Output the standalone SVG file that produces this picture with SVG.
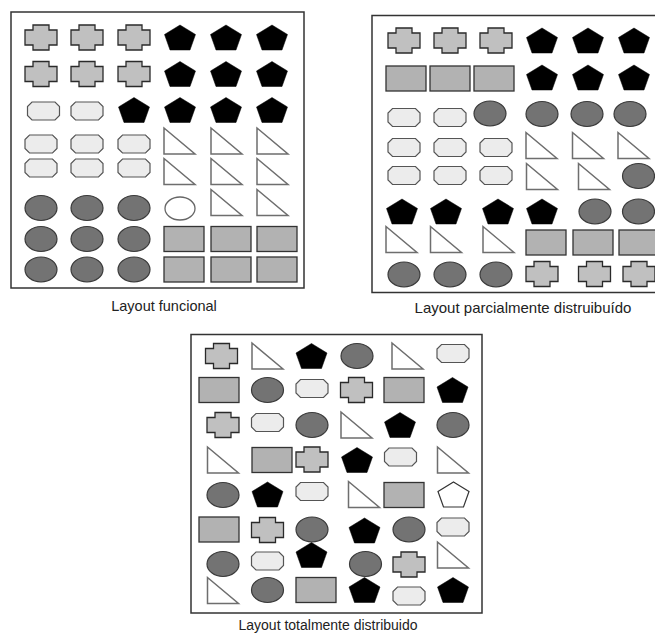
<svg xmlns="http://www.w3.org/2000/svg" width="655" height="634" viewBox="0 0 655 634">
<style>
.cr{fill:#c0c0c0;stroke:#2a2a2a;stroke-width:1.3}
.pe{fill:#000;stroke:#000;stroke-width:0.5}
.oc{fill:#ececec;stroke:#555;stroke-width:1.2}
.tr{fill:#fff;stroke:#6e6e6e;stroke-width:1.5}
.el{fill:#737373;stroke:#3a3a3a;stroke-width:1.2}
.rc{fill:#b2b2b2;stroke:#333;stroke-width:1.3}
.frame{fill:#fff;stroke:#333;stroke-width:1.5}
.lbl{font-family:"Liberation Sans",Arial,sans-serif;fill:#222;text-anchor:middle}
</style>
<defs>
<polygon id="cross" class="cr" points="-8,-12.5 8,-12.5 8,-7.5 16,-7.5 16,7.5 8,7.5 8,12.5 -8,12.5 -8,7.5 -16,7.5 -16,-7.5 -8,-7.5"/>
<polygon id="pent" class="pe" points="0,-12.5 15.5,-3 10,12.5 -10,12.5 -15.5,-3"/>
<polygon id="oct" class="oc" points="-11.5,-9 11.5,-9 16,-4.5 16,4.5 11.5,9 -11.5,9 -16,4.5 -16,-4.5"/>
<polygon id="tri" class="tr" points="-15.5,-13 15.5,13 -15.5,13"/>
<ellipse id="ell" class="el" rx="16" ry="12.5"/>
<rect id="rct" class="rc" x="-20" y="-12.5" width="40" height="25"/>
</defs>
<rect width="655" height="634" fill="#fff"/>

<g id="layout-funcional">
<rect class="frame" x="11" y="12" width="293" height="276"/>
<use href="#cross" x="41" y="37.5"/><use href="#cross" x="87" y="37.5"/><use href="#cross" x="134" y="37.5"/>
<use href="#pent" x="180" y="37.5"/><use href="#pent" x="226" y="37.5"/><use href="#pent" x="272" y="37.5"/>
<use href="#cross" x="41" y="74"/><use href="#cross" x="87" y="74"/><use href="#cross" x="134" y="74"/>
<use href="#pent" x="180" y="74"/><use href="#pent" x="226" y="74"/><use href="#pent" x="272" y="74"/>
<use href="#oct" x="43.5" y="111"/><use href="#oct" x="87" y="111"/>
<use href="#pent" x="134" y="110"/><use href="#pent" x="180" y="110"/><use href="#pent" x="226" y="110"/><use href="#pent" x="272" y="110"/>
<use href="#oct" x="41" y="144"/><use href="#oct" x="87" y="144"/><use href="#oct" x="134" y="144"/>
<use href="#tri" x="179.5" y="141"/><use href="#tri" x="226.5" y="141"/><use href="#tri" x="272.5" y="141"/>
<use href="#oct" x="41" y="168"/><use href="#oct" x="87" y="168"/><use href="#oct" x="134" y="168"/>
<use href="#tri" x="179.5" y="171.5"/><use href="#tri" x="226.5" y="171.5"/><use href="#tri" x="272.5" y="171.5"/>
<use href="#ell" x="41" y="208"/><use href="#ell" x="87" y="208"/><use href="#ell" x="134" y="208"/>
<ellipse cx="180" cy="208.5" rx="15" ry="11.5" fill="#fff" stroke="#666" stroke-width="1.3"/>
<use href="#tri" x="226.5" y="202.5"/><use href="#tri" x="272.5" y="202.5"/>
<use href="#ell" x="41" y="239"/><use href="#ell" x="87" y="239"/><use href="#ell" x="134" y="239"/>
<use href="#rct" x="184" y="239"/><use href="#rct" x="231" y="239"/><use href="#rct" x="277" y="239"/>
<use href="#ell" x="41" y="269.5"/><use href="#ell" x="87" y="269.5"/><use href="#ell" x="134" y="269.5"/>
<use href="#rct" x="184" y="269.5"/><use href="#rct" x="231" y="269.5"/><use href="#rct" x="277" y="269.5"/>
<text class="lbl" x="164" y="311" font-size="14.5">Layout funcional</text>
</g>

<g id="layout-parcial">
<rect class="frame" x="372" y="15.5" width="300" height="277"/>
<use href="#cross" x="404" y="40.5"/><use href="#cross" x="450" y="40.5"/><use href="#cross" x="496" y="40.5"/>
<use href="#pent" x="542" y="40.5"/><use href="#pent" x="588" y="40.5"/><use href="#pent" x="634" y="40.5"/>
<use href="#rct" x="406" y="78.5"/><use href="#rct" x="450" y="78.5"/><use href="#rct" x="494" y="78.5"/>
<use href="#pent" x="542" y="77.5"/><use href="#pent" x="588" y="77.5"/><use href="#pent" x="634" y="77.5"/>
<use href="#oct" x="404" y="117.5"/><use href="#oct" x="450" y="117.5"/>
<use href="#ell" x="490" y="113.5"/><use href="#ell" x="542" y="114"/><use href="#ell" x="587" y="114"/><use href="#ell" x="630" y="114"/>
<use href="#oct" x="404" y="147.5"/><use href="#oct" x="450" y="147.5"/><use href="#oct" x="496" y="147.5"/>
<use href="#tri" x="541.5" y="145.5"/><use href="#tri" x="588" y="145.5"/><use href="#tri" x="633.5" y="145.5"/>
<use href="#oct" x="404" y="175.5"/><use href="#oct" x="450" y="175.5"/><use href="#oct" x="496" y="175.5"/>
<use href="#tri" x="542" y="176.5"/><use href="#tri" x="594" y="176.5"/><use href="#ell" x="638.5" y="176"/>
<use href="#pent" x="402" y="211.5"/><use href="#pent" x="446" y="211.5"/><use href="#pent" x="498" y="211.5"/><use href="#pent" x="542" y="211.5"/>
<use href="#ell" x="595" y="211.5"/><use href="#ell" x="638.5" y="211.5"/>
<use href="#tri" x="401.5" y="239.5"/><use href="#tri" x="446" y="239.5"/><use href="#tri" x="498.5" y="239.5"/>
<use href="#rct" x="546" y="242.5"/><use href="#rct" x="593" y="242.5"/><use href="#rct" x="639" y="242.5"/>
<use href="#ell" x="404" y="274.5"/><use href="#ell" x="450" y="274.5"/><use href="#ell" x="496" y="274.5"/>
<use href="#cross" x="542" y="274"/><use href="#cross" x="594.5" y="274"/><use href="#cross" x="639" y="274"/>
<text class="lbl" x="523" y="313" font-size="15">Layout parcialmente distruibuído</text>
</g>

<g id="layout-total">
<rect class="frame" x="191" y="334.5" width="291" height="278.5"/>
<use href="#cross" x="221.5" y="356"/><use href="#tri" x="267.5" y="356"/><use href="#pent" x="311.5" y="356"/>
<use href="#ell" x="357" y="356"/><use href="#tri" x="407.5" y="356"/><use href="#oct" x="453" y="353.5"/>
<use href="#rct" x="219" y="390"/><use href="#ell" x="267.5" y="390"/><use href="#oct" x="312" y="388.5"/>
<use href="#cross" x="356.5" y="390"/><use href="#rct" x="404" y="390"/><use href="#pent" x="452.5" y="390"/>
<use href="#cross" x="223" y="425"/><use href="#oct" x="267.5" y="422.5"/><use href="#ell" x="312" y="425"/>
<use href="#tri" x="356.5" y="425"/><use href="#pent" x="400" y="425"/><use href="#ell" x="453" y="425"/>
<use href="#tri" x="223" y="460"/><use href="#rct" x="272" y="460"/><use href="#cross" x="312" y="459.5"/>
<use href="#pent" x="357" y="460"/><use href="#oct" x="400.5" y="457"/><use href="#tri" x="453" y="460"/>
<use href="#ell" x="223" y="495"/><use href="#pent" x="267.5" y="494.5"/><use href="#oct" x="312" y="491.5"/>
<use href="#tri" x="364" y="494.5"/><use href="#rct" x="404" y="495"/>
<polygon points="453.5,482 469,491.5 463.5,507 443.5,507 438,491.5" fill="#fff" stroke="#333" stroke-width="1.2"/>
<use href="#rct" x="219" y="529.5"/><use href="#cross" x="267.5" y="530"/><use href="#ell" x="312" y="529.5"/>
<use href="#pent" x="364.5" y="530.5"/><use href="#ell" x="409" y="529.5"/><use href="#oct" x="453" y="527"/>
<use href="#ell" x="223" y="564"/><use href="#oct" x="267.5" y="561"/><use href="#pent" x="311.5" y="555"/>
<use href="#ell" x="365.5" y="564"/><use href="#cross" x="409" y="564.5"/><use href="#tri" x="453" y="555"/>
<use href="#tri" x="223" y="590.5"/><use href="#ell" x="267.5" y="590"/><use href="#rct" x="316" y="590"/>
<use href="#pent" x="364.5" y="590"/><use href="#oct" x="409" y="596"/><use href="#pent" x="453" y="590"/>
<text class="lbl" x="328" y="630" font-size="14">Layout totalmente distribuido</text>
</g>
</svg>
